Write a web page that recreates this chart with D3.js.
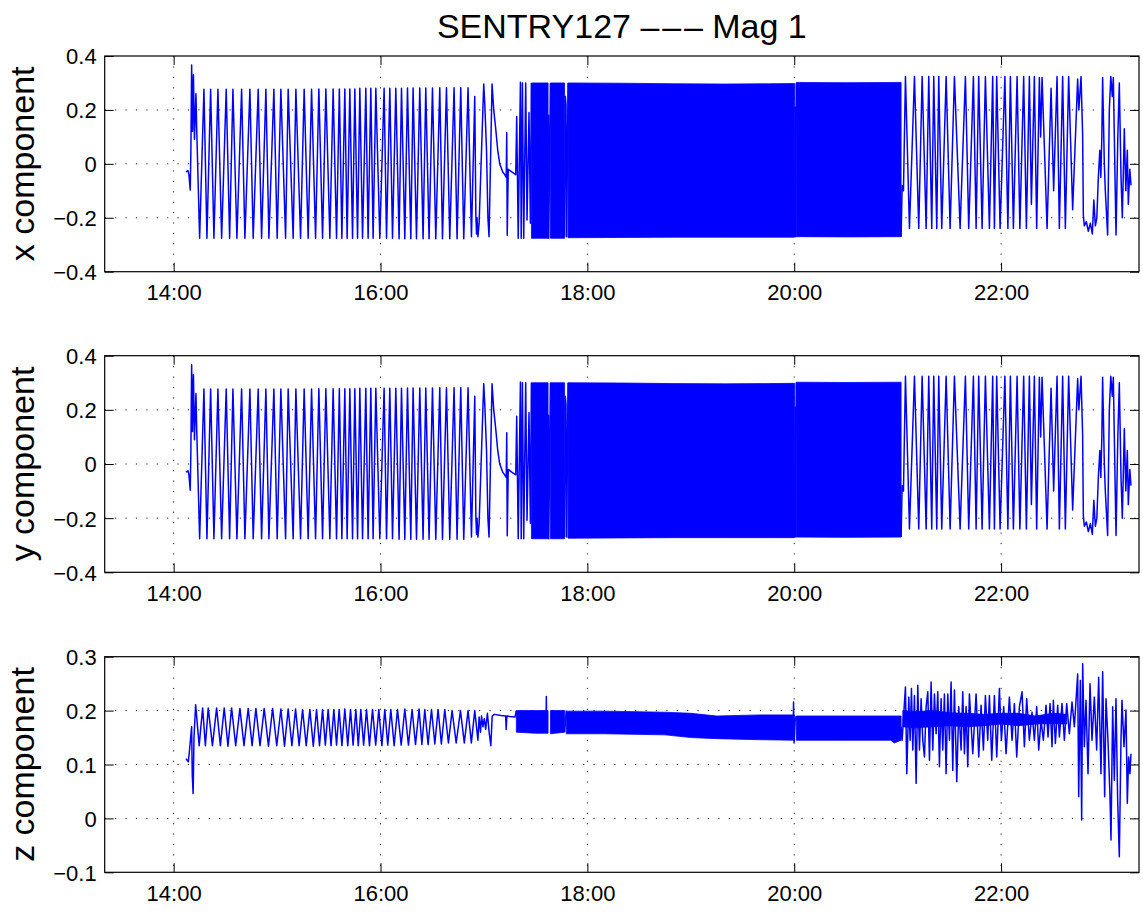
<!DOCTYPE html>
<html><head><meta charset="utf-8">
<script src="https://cdn.jsdelivr.net/npm/d3@7"></script>
<style>
body{margin:0;background:#fff}
svg{display:block}
text{font-family:"Liberation Sans",Arial,Helvetica,sans-serif;fill:#000}
</style>
</head><body>
<svg id="chart" width="1143" height="919"></svg>
<script>
// ---------------- DATA (times are minutes after 14:00) ----------------
const chartTitle = "SENTRY127 \u2013\u200A\u2013\u200A\u2013 Mag 1";
const panelLabels = ["x component", "y component", "z component"];
const timeTickLabels = ["14:00", "16:00", "18:00", "20:00", "22:00"];
const xyTickValues = [-0.4, -0.2, 0, 0.2, 0.4];
const zTickValues = [-0.1, 0, 0.1, 0.2, 0.3];

// x component: sparse parts of the trace (null = break)
const xcTime = [7.13,8.3,8.87,9.62,10.0,10.43,10.9,11.48,12.06,12.93,13.33,15.07,
17.57,19.30,21.45,23.36,25.68,27.83,30.49,32.46,34.38,36.70,39.42,41.33,44.23,46.14,49.04,51.01,53.51,55.25,58.14,60.06,62.20,64.93,66.43,69.33,70.90,73.62,75.71,78.03,80.00,82.32,84.23,86.38,88.29,90.61,92.52,94.49,96.12,97.57,99.30,100.64,102.20,103.77,105.10,106.67,108.00,109.57,111.48,112.81,114.38,115.71,117.28,119.59,122.09,123.48,125.39,126.96,128.87,130.78,132.17,134.09,135.65,137.57,138.90,140.87,142.78,144.70,146.26,148.17,150.14,152.06,154.38,155.94,158.26,160.17,162.67,164.41,166.55,168.29,170.78,172.75,174.67,175.3,175.7,176.0,176.5,177.2,179.88,180.5,181.5,182.3,182.96,184.70,185.68,186.84,188.00,189.16,190.90,192.06,192.93,193.22,193.51,194.09,196.12,198.43,199.01,199.88,201.16,201.62,202.32,203.07,204.23,204.99,206.14,206.96,207.54,null,
217.2,217.4,217.6,218.6,null,
226.8,227.2,227.6,228.0,228.8,null,
360.2,360.5,360.9,361.2,null,
422.0,422.6,423.36,424.52,426.84,429.74,432.23,434.20,436.52,438.03,439.77,440.93,442.67,443.83,445.57,448.12,450.43,452.93,456.23,459.30,461.22,463.94,465.51,467.01,468.99,470.90,473.22,475.13,476.12,477.45,479.42,482.20,483.94,485.39,487.13,489.28,490.90,493.10,494.67,496.41,497.57,499.30,500.64,502.20,502.96,503.77,506.67,508.99,510.49,512.46,513.80,515.71,517.28,519.19,521.51,524.41,525.10,526.38,527.30,527.71,528.29,529.45,530.61,531.77,532.93,533.80,534.67,535.54,536.41,537.28,537.86,538.44,538.90,539.88,540.46,541.80,542.78,543.65,544.52,545.10,546.67,547.71,548.58,549.57,550.32,551.48,552.35,553.22,553.80,554.67,555.36];
const xcVal = [-0.03,-0.025,-0.04,-0.097,0.05,0.367,0.12,0.33,0.09,0.26,0.14,-0.276,
0.277,-0.276,0.277,-0.276,0.277,-0.276,0.277,-0.276,0.277,-0.276,0.277,-0.276,0.277,-0.276,0.277,-0.276,0.277,-0.276,0.277,-0.276,0.277,-0.276,0.277,-0.276,0.277,-0.276,0.277,-0.276,0.277,-0.276,0.278,-0.276,0.278,-0.276,0.278,-0.276,0.278,-0.276,0.278,-0.276,0.278,-0.276,0.278,-0.276,0.28,-0.276,0.28,-0.276,0.28,-0.276,0.28,-0.276,0.28,-0.276,0.28,-0.276,0.28,-0.278,0.28,-0.278,0.281,-0.278,0.281,-0.278,0.281,-0.278,0.281,-0.278,0.281,-0.278,0.282,-0.278,0.282,-0.278,0.282,-0.278,0.282,-0.278,0.282,-0.27,0.25,-0.19,-0.26,-0.2,-0.27,-0.22,0.296,0.22,0.05,-0.2,-0.27,0.296,0.2,0.13,0.05,0.0,-0.03,-0.04,-0.05,0.115,-0.265,-0.02,-0.03,-0.04,0.176,-0.276,0.303,-0.276,0.30,-0.276,0.30,-0.208,0.19,-0.22,0.3,null,
-0.27,0.18,-0.276,0.3,null,
-0.27,0.25,0.22,-0.27,0.3,null,
-0.27,0.21,-0.27,0.3,null,
-0.27,-0.08,-0.1,0.324,-0.24,0.324,-0.24,0.324,-0.24,0.324,-0.24,0.324,-0.24,0.324,-0.24,0.324,-0.24,0.324,-0.24,0.324,-0.24,0.324,-0.24,0.324,-0.24,0.324,-0.24,0.324,-0.24,0.324,-0.24,0.324,-0.24,0.324,-0.24,0.324,-0.24,0.324,-0.24,0.324,-0.15,0.324,-0.24,0.32,0.1,0.32,-0.24,0.28,-0.1,0.324,-0.24,0.324,-0.24,0.324,-0.17,0.315,0.2,0.324,0.108,-0.19,-0.23,-0.214,-0.25,-0.22,-0.26,-0.134,-0.23,-0.2,-0.05,0.05,-0.05,0.1,0.32,0.0,-0.1,-0.264,0.2,0.324,0.25,0.32,-0.264,0.1,0.3,-0.05,-0.2,0.13,-0.1,0.05,-0.15,-0.02,-0.08];
// x component: dense fast-oscillation stretches, drawn as min/max envelope
const xcBandTime = [207.54,217.2,null,218.6,226.8,null,228.8,260,290,320,345,360.2,null,361.2,390,422.0];
const xcBandHi   = [0.30,0.30,null,0.30,0.30,null,0.30,0.299,0.297,0.296,0.297,0.298,null,0.302,0.301,0.302];
const xcBandLo   = [-0.276,-0.276,null,-0.276,-0.276,null,-0.274,-0.273,-0.272,-0.272,-0.272,-0.272,null,-0.27,-0.271,-0.27];

// y component: the reference trace is the same as the x component
const ycTime = xcTime, ycVal = xcVal;
const ycBandTime = xcBandTime, ycBandHi = xcBandHi, ycBandLo = xcBandLo;

// z component
const zcTime = [7.13,8.5,9.0,10.43,10.8,11.3,11.8,12.75,14.8,16.81,18.4,20.06,22.5,24.93,27.1,29.33,31.5,33.62,36.0,38.43,40.8,43.25,45.5,47.71,50.1,52.52,55.0,57.39,59.8,62.20,64.3,66.43,68.6,70.72,72.8,74.78,76.9,79.01,81.0,82.90,84.6,86.38,88.0,89.62,91.3,92.93,94.5,96.00,97.6,99.30,101.0,102.61,104.1,105.68,107.1,108.58,110.2,111.88,113.6,115.36,117.2,119.01,120.8,122.49,124.2,125.97,127.9,129.86,132.0,134.09,136.2,138.32,140.3,142.38,144.0,145.68,147.6,149.57,151.5,153.39,155.3,157.28,159.4,161.51,163.9,166.38,168.6,170.78,172.7,174.67,176.5,177.2,178.0,178.6,179.4,180.2,181.0,182.0,183.0,184.0,184.8,186.0,190.0,192.6,192.9,193.3,195.0,198.0,198.8,null,
216.0,216.2,216.4,null,
226.8,227.3,227.8,null,
359.4,359.6,359.9,360.5,361.2,null,
422.0,422.59,424.52,425.30,426.45,427.23,428.00,428.77,429.74,430.71,431.67,432.64,433.61,434.57,435.54,436.50,437.47,438.44,439.40,440.37,441.33,442.30,443.27,444.23,445.20,446.17,447.13,448.10,449.06,450.03,451.00,451.96,452.93,454.28,455.44,456.79,457.76,458.73,459.69,460.66,461.62,463.56,465.49,467.04,468.39,469.74,470.90,472.25,473.22,474.57,476.12,477.47,479.02,480.17,481.53,482.88,484.81,486.36,487.71,489.06,490.61,492.16,493.51,494.86,496.41,497.95,499.30,500.66,501.82,503.17,504.52,506.07,507.23,508.39,509.55,510.32,511.48,512.83,513.80,515.35,516.70,518.05,519.60,521.14,522.50,523.85,524.43,525.01,525.97,526.74,527.33,528.29,529.26,530.42,531.58,532.74,534.09,535.44,536.60,537.95,538.92,540.08,540.85,542.01,543.17,543.75,544.72,545.68,546.65,547.62,548.58,549.55,550.13,551.29,552.45,553.22,553.99,554.76,555.34];
const zcVal = [0.111,0.105,0.12,0.17,0.08,0.046,0.15,0.211,0.135,0.205,0.135,0.205,0.135,0.205,0.135,0.205,0.134,0.205,0.135,0.204,0.135,0.204,0.135,0.204,0.135,0.204,0.134,0.204,0.135,0.203,0.134,0.203,0.135,0.203,0.135,0.202,0.135,0.202,0.134,0.202,0.135,0.202,0.136,0.202,0.135,0.202,0.136,0.202,0.135,0.203,0.135,0.202,0.136,0.202,0.135,0.202,0.136,0.202,0.135,0.202,0.136,0.202,0.135,0.202,0.136,0.202,0.135,0.202,0.136,0.203,0.136,0.202,0.137,0.203,0.137,0.202,0.137,0.202,0.138,0.202,0.138,0.202,0.14,0.2,0.14,0.2,0.14,0.2,0.14,0.2,0.145,0.188,0.16,0.19,0.17,0.185,0.165,0.195,0.16,0.135,0.19,0.193,0.191,0.19,0.165,0.19,0.189,0.188,0.2,null,
0.17,0.226,0.165,null,
0.16,0.18,0.2,null,
0.16,0.216,0.14,0.18,0.19,null,
0.17,0.145,0.244,0.083,0.225,0.145,0.241,0.127,0.228,0.065,0.247,0.127,0.222,0.145,0.114,0.207,0.235,0.108,0.253,0.127,0.231,0.157,0.235,0.096,0.222,0.127,0.231,0.083,0.231,0.145,0.253,0.089,0.238,0.068,0.207,0.127,0.235,0.120,0.207,0.096,0.231,0.120,0.231,0.114,0.210,0.127,0.228,0.145,0.228,0.108,0.228,0.114,0.241,0.145,0.207,0.120,0.225,0.145,0.213,0.114,0.207,0.235,0.133,0.222,0.145,0.197,0.145,0.207,0.127,0.182,0.145,0.210,0.151,0.213,0.133,0.219,0.139,0.210,0.151,0.213,0.145,0.213,0.157,0.216,0.170,0.238,0.268,0.040,0.256,-0.003,0.287,0.133,0.219,0.083,0.250,0.145,0.225,0.127,0.262,0.083,0.272,0.040,0.222,0.145,0.040,-0.040,0.207,0.071,0.222,0.034,-0.071,0.145,0.219,0.133,0.201,0.028,0.114,0.083,0.120];
// z component: dense stretches as min/max envelope (incl. the dense core of the noisy end)
const zcBandTime = [198.8,210,217.2,null,218.6,226.8,null,227.8,250,285,300,315,340,360.2,null,361.2,390,416,418,422.0,null,
423,430,440,450,460,470,480,490,500,510,518];
const zcBandHi   = [0.2,0.2,0.2,null,0.2,0.2,null,0.199,0.199,0.197,0.195,0.19,0.192,0.192,null,0.19,0.19,0.19,0.19,0.19,null,
0.2,0.198,0.2,0.196,0.195,0.193,0.195,0.195,0.19,0.195,0.193];
const zcBandLo   = [0.16,0.158,0.158,null,0.157,0.16,null,0.157,0.157,0.155,0.15,0.148,0.146,0.145,null,0.145,0.145,0.145,0.14,0.145,null,
0.17,0.168,0.17,0.172,0.17,0.172,0.175,0.172,0.175,0.176,0.175];

// ---------------- DRAWING ----------------
const W = 1143, H = 919;
const svg = d3.select("#chart");
svg.append("rect").attr("width", W).attr("height", H).attr("fill", "#fff");

const plotLeft = 104.7, plotRight = 1139;
const parseHM = d3.timeParse("%H:%M");
const base = parseHM("14:00");
const toDate = m => new Date(base.getTime() + m * 60000);
const x = d3.scaleTime().domain([toDate(-40), toDate(560)]).range([plotLeft, plotRight]);
const xTickDates = timeTickLabels.map(parseHM);

const panels = [
  {top: 56, bottom: 271.7, domain: [-0.4, 0.4], ticks: xyTickValues, t: xcTime, v: xcVal, bt: xcBandTime, bh: xcBandHi, bl: xcBandLo},
  {top: 355.7, bottom: 572.3, domain: [-0.4, 0.4], ticks: xyTickValues, t: ycTime, v: ycVal, bt: ycBandTime, bh: ycBandHi, bl: ycBandLo},
  {top: 656.7, bottom: 872.3, domain: [-0.1, 0.3], ticks: zTickValues, t: zcTime, v: zcVal, bt: zcBandTime, bh: zcBandHi, bl: zcBandLo}
];
const fmtY = d => d === 0 ? "0" : d3.format(".1f")(d).replace("-", "\u2212");
const TICK = 9;
const blue = "#0000ff";

panels.forEach((p, k) => {
  const y = d3.scaleLinear().domain(p.domain).range([p.bottom, p.top]);
  const g = svg.append("g");
  const clipId = "clip" + k;
  svg.append("clipPath").attr("id", clipId).append("rect")
    .attr("x", plotLeft).attr("y", p.top).attr("width", plotRight - plotLeft).attr("height", p.bottom - p.top);

  // grid (dotted)
  const grid = g.append("g").attr("stroke", "#222").attr("stroke-width", 1).attr("stroke-dasharray", "1.2,9.2");
  xTickDates.forEach(d => {
    grid.append("line").attr("x1", x(d)).attr("x2", x(d)).attr("y1", p.top).attr("y2", p.bottom);
  });
  p.ticks.slice(1, -1).forEach(v => {
    grid.append("line").attr("x1", plotLeft).attr("x2", plotRight).attr("y1", y(v)).attr("y2", y(v));
  });

  // data
  const dg = g.append("g").attr("clip-path", `url(#${clipId})`);
  const bandIdx = d3.range(p.bt.length);
  const area = d3.area()
    .defined(i => p.bh[i] != null)
    .x(i => x(toDate(p.bt[i])))
    .y0(i => y(p.bl[i])).y1(i => y(p.bh[i]));
  dg.append("path").attr("d", area(bandIdx)).attr("fill", blue).attr("stroke", blue).attr("stroke-width", 0.8);
  const line = d3.line()
    .defined(i => p.v[i] != null)
    .x(i => x(toDate(p.t[i])))
    .y(i => y(p.v[i]));
  dg.append("path").attr("d", line(d3.range(p.t.length)))
    .attr("fill", "none").attr("stroke", blue).attr("stroke-width", 1.5).attr("stroke-linejoin", "round");

  // axes
  const axB = d3.axisBottom(x).tickValues(xTickDates).tickFormat(d3.timeFormat("%H:%M"))
    .tickSizeInner(-TICK).tickSizeOuter(0).tickPadding(12.6);
  const axT = d3.axisTop(x).tickValues(xTickDates).tickFormat("").tickSizeInner(-TICK).tickSizeOuter(0);
  const axL = d3.axisLeft(y).tickValues(p.ticks).tickFormat(fmtY).tickSizeInner(-TICK).tickSizeOuter(0).tickPadding(8);
  const axR = d3.axisRight(y).tickValues(p.ticks).tickFormat("").tickSizeInner(-TICK).tickSizeOuter(0);
  const styleAx = sel => {
    sel.select(".domain").remove();
    sel.selectAll("line").attr("stroke", "#000").attr("stroke-width", 1);
    sel.selectAll("text").attr("font-size", 22).attr("font-family", '"Liberation Sans",Arial,sans-serif').attr("fill", "#000");
  };
  g.append("g").attr("transform", `translate(0,${p.bottom})`).call(axB).call(styleAx);
  g.append("g").attr("transform", `translate(0,${p.top})`).call(axT).call(styleAx);
  const gl = g.append("g").attr("transform", `translate(${plotLeft},0)`).call(axL).call(styleAx);
  gl.selectAll("text").attr("dy", "0.36em");
  g.append("g").attr("transform", `translate(${plotRight},0)`).call(axR).call(styleAx);

  // box
  g.append("rect").attr("x", plotLeft).attr("y", p.top).attr("width", plotRight - plotLeft).attr("height", p.bottom - p.top)
    .attr("fill", "none").attr("stroke", "#000").attr("stroke-width", 1.2);

  // y label
  g.append("text").attr("transform", `translate(33.5,${(p.top + p.bottom) / 2}) rotate(-90)`)
    .attr("text-anchor", "middle").attr("font-size", 34).text(panelLabels[k]);
});

svg.append("text").attr("x", (plotLeft + plotRight) / 2).attr("y", 38).attr("text-anchor", "middle")
  .attr("font-size", 34).text(chartTitle);
</script>
</body></html>
